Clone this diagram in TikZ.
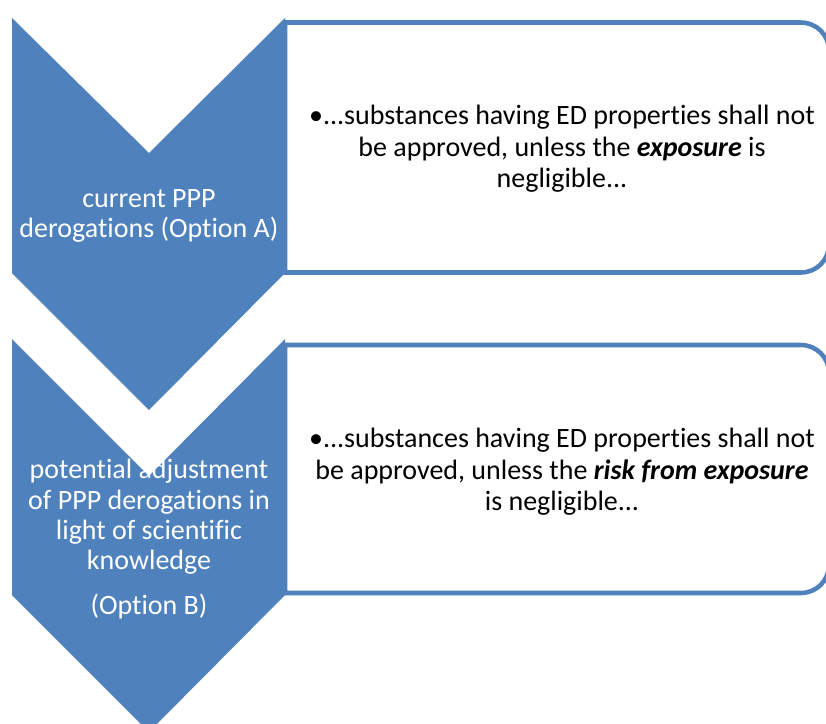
\documentclass[tikz,border=0pt]{standalone}
\usepackage{fontspec}
\setmainfont{Carlito}[Ligatures=NoCommon]
\usepackage{xcolor}
\definecolor{ChevBlue}{RGB}{79,129,189}
\usepackage{tikz}
\usetikzlibrary{positioning}

\begin{document}
\begin{tikzpicture}[x=0.75pt,y=-0.75pt,
  chev/.style={fill=ChevBlue,draw=none},
  panel/.style={draw=ChevBlue,line width=3.4pt,fill=white},
  chevtext/.style={text=white,align=center,inner sep=0pt,font=\fontsize{21}{22.8}\selectfont},
  paneltext/.style={text=black,align=center,inner sep=0pt,font=\fontsize{21}{23.6}\selectfont}]
\useasboundingbox (0,0) rectangle (826,724);
% Option A
\begin{scope}
  \draw[panel] (285,272.5) -- (285,22.5) -- (801,22.5) arc[start angle=90,end angle=0,radius=21pt]
    -- (829,244.5) arc[start angle=0,end angle=-90,radius=21pt] -- cycle;
  \fill[chev] (12,18) -- (149,153) -- (285,18) -- (285,273) -- (149,410) -- (12,273) -- cycle;
  \node[chevtext] (chevA) at (149,216) {current PPP\\derogations (Option A)};
  \node[paneltext] (textA) at (562,149) {\textbullet...substances having ED properties shall not\\
    be approved, unless the \textbf{\textit{exposure}} is\\negligible...};
\end{scope}
% Option B
\begin{scope}
  \draw[panel] (285,593) -- (285,345) -- (801,345) arc[start angle=90,end angle=0,radius=21pt]
    -- (829,565) arc[start angle=0,end angle=-90,radius=21pt] -- cycle;
  \fill[chev] (12,339) -- (149,476) -- (285,339) -- (285,595) -- (149,732) -- (12,595) -- cycle;
  \node[chevtext] (chevB) at (149,517) {potential adjustment\\of PPP derogations in\\light of scientific\\knowledge};
  \node[chevtext,below=14pt of chevB] (optB) {(Option B)};
  \node[paneltext] (textB) at (562,472) {\textbullet...substances having ED properties shall not\\
    be approved, unless the \textbf{\textit{risk from exposure}}\\is negligible...};
\end{scope}
\end{tikzpicture}
\end{document}
